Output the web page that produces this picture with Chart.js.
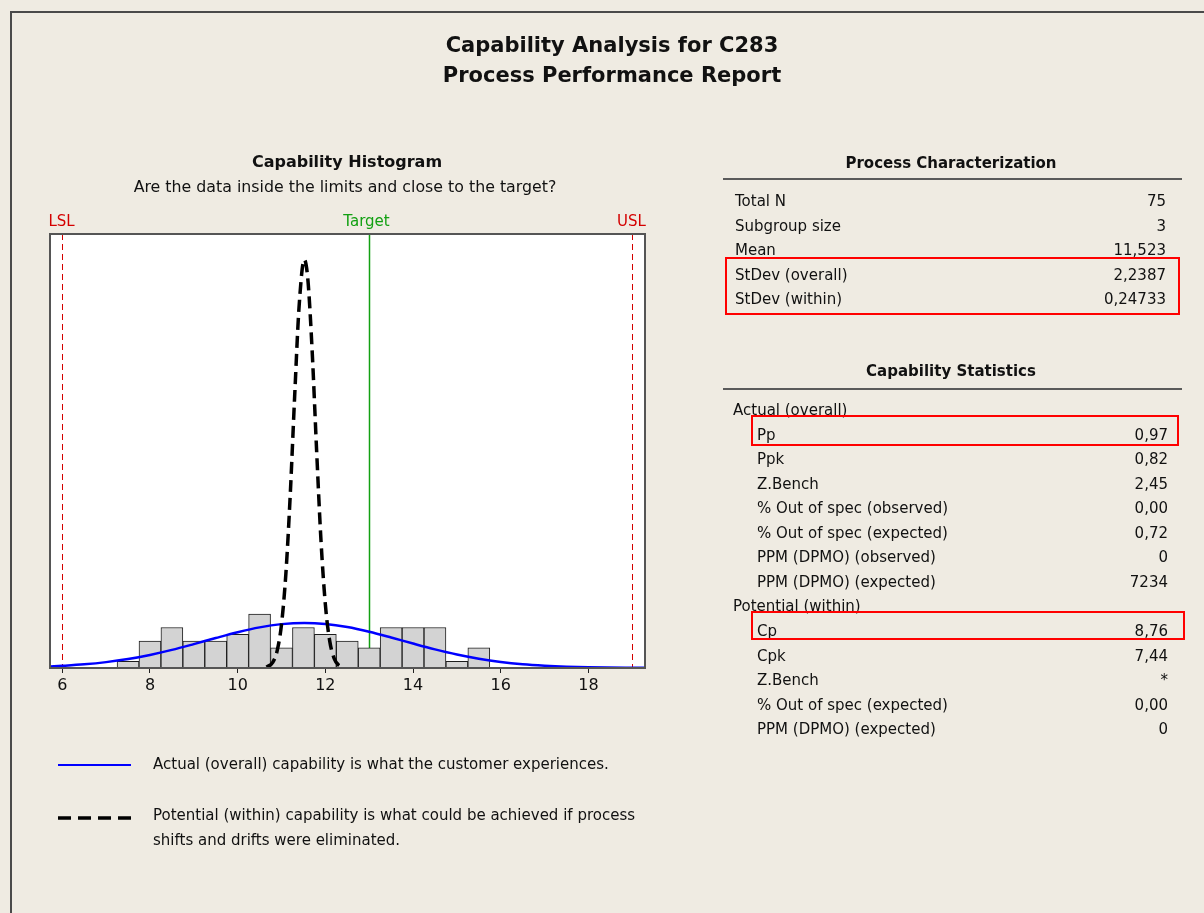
<!DOCTYPE html>
<html>
<head>
<meta charset="utf-8">
<script src="https://cdn.jsdelivr.net/npm/chart.js@4.4.0/dist/chart.umd.min.js"></script>
<style>
  html, body { margin: 0; padding: 0; }
  body { width: 1204px; height: 913px; background: #efebe2; position: relative; overflow: hidden;
         font-family: 'DejaVu Sans', sans-serif; color: #111; }
  #page { position: absolute; left: 10px; top: 11px; right: -4px; bottom: -4px;
          border-left: 2px solid #4a4a4a; border-top: 2px solid #4a4a4a; }
  canvas { position: absolute; left: 0; top: 0; }
  .t { position: absolute; white-space: nowrap; line-height: 20px; }
  .box { position: absolute; border: 2.5px solid #f00; box-sizing: border-box; }
  .rule { position: absolute; height: 2px; background: #5a5a5a; }
</style>
</head>
<body>
<div id="page"></div>
<canvas id="chart" width="1204" height="913" style="width:1204px;height:913px"></canvas>
<div id="text"></div>
<script>
// histogram bins (width 0.5) and counts
const binCenters = [7.5, 8, 8.5, 9, 9.5, 10, 10.5, 11, 11.5, 12, 12.5, 13, 13.5, 14, 14.5, 15, 15.5];
const binCounts  = [1, 4, 6, 4, 4, 5, 8, 3, 6, 5, 4, 3, 6, 6, 6, 1, 3];

// overall (long-term) fitted curve, in count units
const overallX = [5.72, 6, 6.5, 7, 7.5, 8, 8.5, 9, 9.5, 10, 10.5, 11, 11.52, 12, 12.5, 13, 13.5, 14, 14.5, 15, 15.5, 16, 16.5, 17, 17.5, 18, 19, 19.29];
const overallY = [0.22, 0.32, 0.54, 0.87, 1.33, 1.94, 2.68, 3.54, 4.44, 5.30, 6.02, 6.50, 6.68, 6.53, 6.07, 5.37, 4.52, 3.62, 2.76, 2.00, 1.38, 0.90, 0.56, 0.34, 0.19, 0.10, 0.03, 0.02];

// within (short-term) fitted curve
const withinX = [10.66, 10.8, 10.9, 11.0, 11.1, 11.2, 11.3, 11.4, 11.52, 11.6, 11.7, 11.8, 11.9, 12.0, 12.1, 12.2, 12.3, 12.39];
const withinY = [0.13, 0.84, 2.53, 6.47, 14.02, 25.78, 40.28, 53.46, 60.49, 57.63, 46.83, 32.31, 18.93, 9.42, 3.98, 1.43, 0.44, 0.13];

const tickValues = [6, 8, 10, 12, 14, 16, 18];
const specNames  = ['LSL', 'Target', 'USL'];
const specValues = [6, 13, 19];
const specColors = ['#d40000', '#12a012', '#d40000'];

const charLabels = ['Total N', 'Subgroup size', 'Mean', 'StDev (overall)', 'StDev (within)'];
const charValues = ['75', '3', '11,523', '2,2387', '0,24733'];

const actualLabels = ['Pp', 'Ppk', 'Z.Bench', '% Out of spec (observed)', '% Out of spec (expected)', 'PPM (DPMO) (observed)', 'PPM (DPMO) (expected)'];
const actualValues = ['0,97', '0,82', '2,45', '0,00', '0,72', '0', '7234'];
const potentialLabels = ['Cp', 'Cpk', 'Z.Bench', '% Out of spec (expected)', 'PPM (DPMO) (expected)'];
const potentialValues = ['8,76', '7,44', '*', '0,00', '0'];

const FONT = "'DejaVu Sans', sans-serif";

const panelDecor = {
  id: 'panelDecor',
  beforeDraw(c) {
    const { ctx, chartArea: a } = c;
    ctx.save();
    ctx.fillStyle = '#ffffff';
    ctx.fillRect(a.left, a.top, a.width, a.height);
    ctx.restore();
  },
  beforeDatasetsDraw(c) {
    const { ctx, chartArea: a, scales: { x } } = c;
    ctx.save();
    specValues.forEach((v, i) => {
      const target = specNames[i] === 'Target';
      const px = Math.round(x.getPixelForValue(v)) + 0.5;
      ctx.strokeStyle = specColors[i];
      ctx.lineWidth = target ? 1.5 : 1;
      ctx.setLineDash(target ? [] : [6, 4]);
      ctx.beginPath();
      ctx.moveTo(px, a.top);
      ctx.lineTo(px, a.bottom);
      ctx.stroke();
      ctx.setLineDash([]);
      ctx.fillStyle = specColors[i];
      ctx.font = '15px ' + FONT;
      ctx.textAlign = 'center';
      ctx.textBaseline = 'middle';
      ctx.fillText(specNames[i], px - (target ? 3 : 1), a.top - 12);
    });
    ctx.restore();
  },
  afterDatasetsDraw(c) {
    const { ctx, chartArea: a } = c;
    ctx.save();
    ctx.strokeStyle = '#555';
    ctx.lineWidth = 2;
    ctx.strokeRect(a.left, a.top, a.width, a.height);

    // legend samples under the histogram
    ctx.strokeStyle = '#0000ff';
    ctx.lineWidth = 2;
    ctx.beginPath();
    ctx.moveTo(58, 765);
    ctx.lineTo(131, 765);
    ctx.stroke();
    ctx.strokeStyle = '#000';
    ctx.lineWidth = 3.5;
    ctx.setLineDash([13, 7]);
    ctx.beginPath();
    ctx.moveTo(58, 818);
    ctx.lineTo(131, 818);
    ctx.stroke();
    ctx.restore();
  }
};

new Chart(document.getElementById('chart').getContext('2d'), {
  type: 'bar',
  data: {
    datasets: [
      {
        type: 'line',
        data: withinX.map((x, i) => ({ x, y: withinY[i] })),
        borderColor: '#000',
        borderWidth: 3.5,
        borderDash: [12, 6],
        pointRadius: 0,
        cubicInterpolationMode: 'monotone',
        order: 0
      },
      {
        type: 'line',
        data: overallX.map((x, i) => ({ x, y: overallY[i] })),
        borderColor: '#0000ff',
        borderWidth: 2.5,
        pointRadius: 0,
        cubicInterpolationMode: 'monotone',
        order: 1
      },
      {
        type: 'bar',
        data: binCenters.map((x, i) => ({ x, y: binCounts[i] })),
        backgroundColor: '#d3d3d3',
        borderColor: '#1e1e1e',
        borderWidth: 1,
        borderSkipped: false,
        barPercentage: 1,
        categoryPercentage: 1,
        order: 2
      }
    ]
  },
  options: {
    responsive: false,
    devicePixelRatio: 1,
    animation: false,
    layout: { padding: { left: 50, top: 234, right: 559, bottom: 205 } },
    plugins: { legend: { display: false }, tooltip: { enabled: false } },
    scales: {
      x: {
        type: 'linear',
        min: 5.72,
        max: 19.29,
        offset: false,
        grid: { offset: false, drawOnChartArea: false, drawTicks: true, tickLength: 5, color: '#222' },
        border: { display: false },
        ticks: { font: { family: FONT, size: 16 }, color: '#111', padding: 3 },
        afterBuildTicks: s => { s.ticks = tickValues.map(v => ({ value: v })); },
        afterFit: s => { s.height = 40; }
      },
      y: { display: false, min: 0, max: 64.3 }
    }
  },
  plugins: [panelDecor]
});

// page text
const host = document.getElementById('text');
function put(txt, x, y, size, align, bold, color) {
  const d = document.createElement('div');
  d.className = 't';
  d.textContent = txt;
  d.style.fontSize = size + 'px';
  d.style.top = (y - 10) + 'px';
  if (bold) d.style.fontWeight = 'bold';
  if (color) d.style.color = color;
  if (align === 'center') {
    d.style.left = (x - 300) + 'px'; d.style.width = '600px'; d.style.textAlign = 'center';
  } else if (align === 'right') {
    d.style.left = (x - 400) + 'px'; d.style.width = '400px'; d.style.textAlign = 'right';
  } else {
    d.style.left = x + 'px';
  }
  host.appendChild(d);
}
function rect(cls, l, t, w, h) {
  const d = document.createElement('div');
  d.className = cls;
  d.style.left = l + 'px'; d.style.top = t + 'px'; d.style.width = w + 'px';
  if (h) d.style.height = h + 'px';
  host.appendChild(d);
}

put('Capability Analysis for C283', 612, 45, 21, 'center', true);
put('Process Performance Report', 612, 75, 21, 'center', true);
put('Capability Histogram', 347, 162, 16, 'center', true);
put('Are the data inside the limits and close to the target?', 345, 187, 15.8, 'center');

put('Process Characterization', 951, 163, 15, 'center', true);
rect('rule', 723, 178, 459);
charLabels.forEach((l, i) => {
  const y = 201 + i * 24.5;
  put(l, 735, y, 15, 'left');
  put(charValues[i], 1166, y, 15, 'right');
});

put('Capability Statistics', 951, 371, 15, 'center', true);
rect('rule', 723, 388, 459);
put('Actual (overall)', 733, 410, 15, 'left');
actualLabels.forEach((l, i) => {
  const y = 434.5 + i * 24.5;
  put(l, 757, y, 15, 'left');
  put(actualValues[i], 1168, y, 15, 'right');
});
put('Potential (within)', 733, 606, 15, 'left');
potentialLabels.forEach((l, i) => {
  const y = 631 + i * 24.5;
  put(l, 757, y, 15, 'left');
  put(potentialValues[i], 1168, y, 15, 'right');
});

rect('box', 725, 257, 455, 58);
rect('box', 751, 415, 428, 31);
rect('box', 751, 611, 434, 29);

put('Actual (overall) capability is what the customer experiences.', 153, 764, 15, 'left');
put('Potential (within) capability is what could be achieved if process', 153, 815, 15, 'left');
put('shifts and drifts were eliminated.', 153, 840, 15, 'left');
</script>
</body>
</html>
